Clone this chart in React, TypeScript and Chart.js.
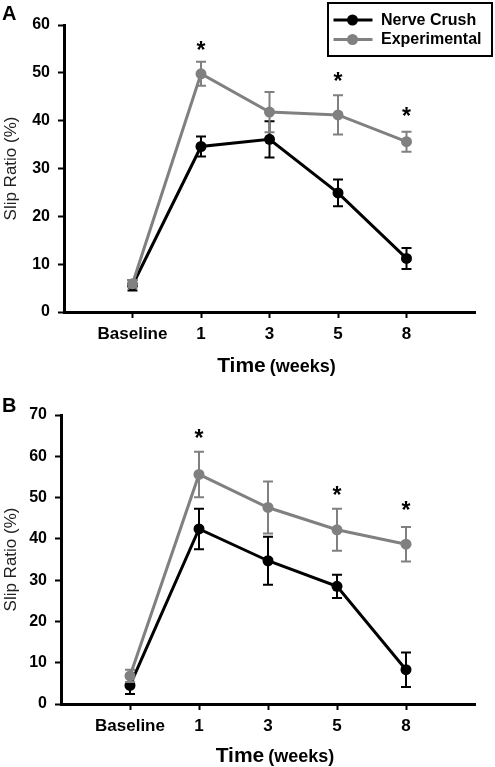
import React, { useEffect, useRef } from 'react';
import { Chart, registerables } from 'chart.js';

Chart.register(...registerables);

// ---------- data ----------
const categories = ['Baseline', '1', '3', '5', '8'];
const seriesNames = ['Nerve Crush', 'Experimental'];

const crushA = [5.6, 34.6, 36.1, 24.9, 11.2];
const crushErrA = [1.1, 2.1, 3.8, 2.8, 2.2];
const expA = [5.9, 49.8, 41.8, 41.2, 35.6];
const expErrA = [0.8, 2.5, 4.2, 4.1, 2.1];
const starsA = [null, 55.8, null, 49.2, 41.9];
const yTicksA = [0, 10, 20, 30, 40, 50, 60];

const crushB = [4.5, 42.4, 34.7, 28.5, 8.3];
const crushErrB = [2.1, 4.9, 5.8, 2.8, 4.2];
const expB = [6.8, 55.6, 47.6, 42.2, 38.7];
const expErrB = [1.5, 5.5, 6.3, 5.1, 4.2];
const starsB = [null, 65.6, null, 51.8, 48.2];
const yTicksB = [0, 10, 20, 30, 40, 50, 60, 70];

// ---------- styles ----------
const FONT = "'Liberation Sans', Arial, Helvetica, sans-serif";
const BLACK = '#000000';
const GRAY = '#808080';

type PanelCfg = {
  letter: string;
  crush: number[];
  crushErr: number[];
  exp: number[];
  expErr: number[];
  stars: (number | null)[];
  yTicks: number[];
  height: number;
  axisLeft: number;
  padTop: number;
  xAxisH: number;
  letterY: number;
  titleOffset: number;
  legend: boolean;
};

const panels: PanelCfg[] = [
  {
    letter: 'A', crush: crushA, crushErr: crushErrA, exp: expA, expErr: expErrA, stars: starsA,
    yTicks: yTicksA, height: 380, axisLeft: 64, padTop: 25, xAxisH: 68, letterY: 20, titleOffset: 60, legend: true,
  },
  {
    letter: 'B', crush: crushB, crushErr: crushErrB, exp: expB, expErr: expErrB, stars: starsB,
    yTicks: yTicksB, height: 387, axisLeft: 61, padTop: 35, xAxisH: 63, letterY: 31.7, titleOffset: 58, legend: false,
  },
];

function makePlugin(cfg: PanelCfg) {
  return {
    id: 'panelExtras' + cfg.letter,
    beforeDatasetDraw(chart: any, args: any) {
      const ctx = chart.ctx;
      const ds = chart.data.datasets[args.index];
      const errs: number[] = ds.errors;
      const y = chart.scales.y;
      ctx.save();
      ctx.strokeStyle = ds.borderColor;
      ctx.lineWidth = 2;
      args.meta.data.forEach((pt: any, i: number) => {
        const v = ds.data[i].y;
        const yt = y.getPixelForValue(v + errs[i]);
        const yb = y.getPixelForValue(v - errs[i]);
        const cap = 5;
        ctx.beginPath();
        ctx.moveTo(pt.x, yt);
        ctx.lineTo(pt.x, yb);
        ctx.moveTo(pt.x - cap, yt);
        ctx.lineTo(pt.x + cap, yt);
        ctx.moveTo(pt.x - cap, yb);
        ctx.lineTo(pt.x + cap, yb);
        ctx.stroke();
      });
      ctx.restore();
    },
    afterDraw(chart: any) {
      const ctx = chart.ctx;
      const xs = chart.scales.x;
      const ys = chart.scales.y;
      const area = chart.chartArea;
      ctx.save();
      // stars
      ctx.fillStyle = BLACK;
      ctx.font = `bold 23px ${FONT}`;
      ctx.textAlign = 'center';
      ctx.textBaseline = 'alphabetic';
      const m = ctx.measureText('*');
      const mid = (m.actualBoundingBoxAscent - m.actualBoundingBoxDescent) / 2;
      cfg.stars.forEach((s, i) => {
        if (s == null) return;
        ctx.fillText('*', xs.getPixelForValue(i + 1), ys.getPixelForValue(s) + mid);
      });
      // panel letter
      ctx.textAlign = 'left';
      ctx.font = `bold 20px ${FONT}`;
      ctx.fillText(cfg.letter, 2, cfg.letterY);
      // x axis title
      ctx.font = `bold 21px ${FONT}`;
      const w1 = ctx.measureText('Time').width;
      ctx.font = `bold 18px ${FONT}`;
      const w2 = ctx.measureText('(weeks)').width;
      const gap = 4;
      const cx = (area.left + area.right) / 2 + 7;
      const startX = cx - (w1 + gap + w2) / 2;
      const ty = area.bottom + cfg.titleOffset;
      ctx.font = `bold 21px ${FONT}`;
      ctx.fillText('Time', startX, ty);
      ctx.font = `bold 18px ${FONT}`;
      ctx.fillText('(weeks)', startX + w1 + gap, ty);
      // legend
      if (cfg.legend) {
        ctx.strokeStyle = BLACK;
        ctx.lineWidth = 2;
        ctx.strokeRect(328, 3, 164, 53);
        const rows = [20, 39.5];
        chart.data.datasets.forEach((ds: any, i: number) => {
          const ry = rows[i];
          ctx.strokeStyle = ds.borderColor;
          ctx.lineWidth = 3;
          ctx.beginPath();
          ctx.moveTo(333.5, ry);
          ctx.lineTo(372.5, ry);
          ctx.stroke();
          ctx.fillStyle = ds.borderColor;
          ctx.beginPath();
          ctx.arc(352.5, ry, 5.5, 0, Math.PI * 2);
          ctx.fill();
          ctx.fillStyle = BLACK;
          ctx.font = `bold 16px ${FONT}`;
          ctx.textAlign = 'left';
          ctx.textBaseline = 'middle';
          ctx.fillText(ds.label, 381, ry + 0.5);
        });
      }
      ctx.restore();
    },
  };
}

function Panel({ cfg }: { cfg: PanelCfg }) {
  const ref = useRef<HTMLCanvasElement | null>(null);
  useEffect(() => {
    if (!ref.current) return;
    const axisCommon = {
      grid: { drawOnChartArea: false, drawTicks: true, tickLength: 6, tickWidth: 2, tickColor: BLACK },
      border: { display: true, width: 3, color: BLACK },
    };
    const chart = new Chart(ref.current, {
      type: 'line',
      data: {
        datasets: [
          {
            label: seriesNames[0],
            data: cfg.crush.map((v, i) => ({ x: i + 1, y: v })),
            borderColor: BLACK,
            backgroundColor: BLACK,
            borderWidth: 3,
            pointRadius: 5.5,
            pointBorderWidth: 0,
            pointBackgroundColor: BLACK,
            order: 1,
            errors: cfg.crushErr,
          } as any,
          {
            label: seriesNames[1],
            data: cfg.exp.map((v, i) => ({ x: i + 1, y: v })),
            borderColor: GRAY,
            backgroundColor: GRAY,
            borderWidth: 3,
            pointRadius: 5.5,
            pointBorderWidth: 0,
            pointBackgroundColor: GRAY,
            order: 0,
            errors: cfg.expErr,
          } as any,
        ],
      },
      options: {
        animation: false,
        responsive: false,
        layout: { padding: { left: 0, right: 20, top: cfg.padTop, bottom: 0 } },
        plugins: { legend: { display: false }, tooltip: { enabled: false } },
        scales: {
          x: {
            type: 'linear',
            min: 0,
            max: categories.length + 1,
            afterBuildTicks: (s: any) => {
              s.ticks = categories.map((_, i) => ({ value: i + 1 }));
            },
            afterFit: (s: any) => {
              s.height = cfg.xAxisH;
            },
            ticks: {
              callback: (v: any) => categories[Number(v) - 1] ?? '',
              font: { family: FONT, size: 17, weight: 'bold' },
              color: BLACK,
              padding: 6,
              maxRotation: 0,
              autoSkip: false,
            },
            ...axisCommon,
          },
          y: {
            type: 'linear',
            min: cfg.yTicks[0],
            max: cfg.yTicks[cfg.yTicks.length - 1],
            afterBuildTicks: (s: any) => {
              s.ticks = cfg.yTicks.map((v) => ({ value: v }));
            },
            afterFit: (s: any) => {
              s.width = cfg.axisLeft;
            },
            ticks: {
              font: { family: FONT, size: 16, weight: 'bold' },
              color: BLACK,
              padding: 8,
            },
            title: {
              display: true,
              text: 'Slip Ratio (%)',
              font: { family: FONT, size: 17, weight: 'normal' },
              color: '#222222',
              padding: { top: 1, bottom: 0 },
            },
            ...axisCommon,
          },
        },
      } as any,
      plugins: [makePlugin(cfg)],
    });
    return () => chart.destroy();
  }, [cfg]);
  return <canvas ref={ref} width={495} height={cfg.height} style={{ display: 'block' }} />;
}

export default function App() {
  return (
    <div style={{ position: 'absolute', left: 0, top: 0, width: 495, height: 767, background: '#ffffff' }}>
      {panels.map((p) => (
        <Panel key={p.letter} cfg={p} />
      ))}
    </div>
  );
}
